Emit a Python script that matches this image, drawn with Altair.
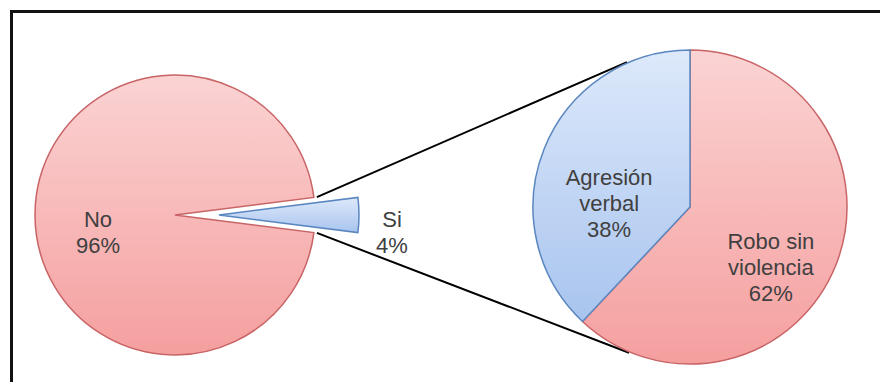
import math
import altair as alt
import pandas as pd

# ---- data ----
left_categories = ["Si", "No"]
left_values = [4, 96]
left_labels = ["Si", "No"]

right_categories = ["Robo sin violencia", "Agresión verbal"]
right_values = [62, 38]
right_labels = ["Robo sin\nviolencia", "Agresión\nverbal"]

# ---- layout (chart pixel space, origin at plot top-left) ----
W, H = 872, 374
L_CX, L_CY, L_R = 165, 205, 140
EXPLODE = 44
R_CX, R_CY, R_R = 680, 197, 157

TWO_PI = 2 * math.pi
left_total = sum(left_values)
si_share = left_values[0] / left_total
left_start = math.pi / 2 - math.pi * si_share  # Si slice centred at 3 o'clock

left_df = pd.DataFrame({
    "category": left_categories,
    "value": left_values,
    "name": left_labels,
})
left_df["label"] = left_df["name"] + "\n" + left_df["value"].astype(str) + "%"

right_df = pd.DataFrame({
    "category": right_categories,
    "value": right_values,
    "name": right_labels,
    "ord": list(range(len(right_categories))),
})
right_df["label"] = right_df["name"] + "\n" + right_df["value"].astype(str) + "%"

pink = alt.Gradient(gradient="linear", x1=0, x2=0, y1=0, y2=1,
                    stops=[alt.GradientStop(color="#FBD3D3", offset=0),
                           alt.GradientStop(color="#F59F9F", offset=1)])
blue = alt.Gradient(gradient="linear", x1=0, x2=0, y1=0, y2=1,
                    stops=[alt.GradientStop(color="#DDE9FB", offset=0),
                           alt.GradientStop(color="#A8C4EE", offset=1)])
PINK_STROKE = "#C86466"
BLUE_STROKE = "#5A86C0"
TEXT_COLOR = "#404040"
FONT = "Liberation Sans"
text_props = dict(font=FONT, fontSize=22, lineHeight=26, color=TEXT_COLOR,
                  lineBreak="\n", align="center", baseline="middle")

# ---- left pie: Si (exploded) and No as separate layers sharing the angle geometry ----
si_val, no_val = left_values[0], left_values[1]
si_range = [left_start, left_start + TWO_PI * si_val / left_total]
no_range = [si_range[1], si_range[1] + TWO_PI * no_val / left_total]

si_theta = alt.Theta("value:Q", stack=True, scale=alt.Scale(domain=[0, si_val], range=si_range))
no_theta = alt.Theta("value:Q", stack=True, scale=alt.Scale(domain=[0, no_val], range=no_range))

si_base = alt.Chart(left_df).transform_filter(alt.datum.category == "Si")
si_pie = si_base.mark_arc(outerRadius=L_R, strokeWidth=1.5, fill=blue, stroke=BLUE_STROKE).encode(
    theta=si_theta, x=alt.value(L_CX + EXPLODE), y=alt.value(L_CY))
si_text = si_base.mark_text(radius=173, **text_props).encode(
    theta=si_theta, x=alt.value(L_CX + EXPLODE), y=alt.value(L_CY + 5), text="label:N")
si_layer = alt.layer(si_pie, si_text)

no_base = alt.Chart(left_df).transform_filter(alt.datum.category == "No")
no_pie = no_base.mark_arc(outerRadius=L_R, strokeWidth=1.5, fill=pink, stroke=PINK_STROKE).encode(
    theta=no_theta, x=alt.value(L_CX), y=alt.value(L_CY))
no_text = no_base.mark_text(radius=77, **text_props).encode(
    theta=no_theta, x=alt.value(L_CX), y=alt.value(L_CY + 5), text="label:N")
no_layer = alt.layer(no_pie, no_text)

# ---- right pie ----
right_theta = alt.Theta("value:Q", stack=True,
                        scale=alt.Scale(domain=[0, sum(right_values)], range=[0, TWO_PI]))
right_base = alt.Chart(right_df)
right_pie = right_base.mark_arc(outerRadius=R_R, strokeWidth=1.5).encode(
    theta=right_theta,
    order=alt.Order("ord:Q"),
    x=alt.value(R_CX),
    y=alt.value(R_CY),
    fill=alt.condition(alt.datum.category == "Agresión verbal", alt.value(blue), alt.value(pink)),
    stroke=alt.condition(alt.datum.category == "Agresión verbal", alt.value(BLUE_STROKE), alt.value(PINK_STROKE)),
)
right_text = right_base.mark_text(radius=87, **text_props).encode(
    theta=right_theta,
    order=alt.Order("ord:Q"),
    x=alt.value(R_CX),
    y=alt.value(R_CY + 3),
    text="label:N",
)
right_layer = alt.layer(right_pie, right_text)

# ---- connector lines, derived from pie geometry ----
def pt(cx, cy, r, rad):
    return cx + r * math.sin(rad), cy - r * math.cos(rad)

p1 = pt(L_CX, L_CY, L_R + 3, si_range[0])
p3 = pt(L_CX, L_CY, L_R + 3, si_range[1])
p2 = pt(R_CX, R_CY, R_R + 1, math.radians(336.5))
p4 = pt(R_CX, R_CY, R_R + 1, math.radians(202.7))

conn_src = pd.DataFrame({"k": [0]})
upper = alt.Chart(conn_src).mark_rule(color="#000000", strokeWidth=2).encode(
    x=alt.value(p1[0]), y=alt.value(p1[1]), x2=alt.value(p2[0]), y2=alt.value(p2[1]))
lower = alt.Chart(conn_src).mark_rule(color="#000000", strokeWidth=2).encode(
    x=alt.value(p3[0]), y=alt.value(p3[1]), x2=alt.value(p4[0]), y2=alt.value(p4[1]))

top_border = alt.Chart(conn_src).mark_rule(color="#111111", strokeWidth=3).encode(
    x=alt.value(0), x2=alt.value(W), y=alt.value(1.5))
left_border = alt.Chart(conn_src).mark_rule(color="#111111", strokeWidth=3).encode(
    x=alt.value(1.5), y=alt.value(0), y2=alt.value(H))

chart = alt.layer(
    upper, lower, no_layer, si_layer, right_layer, top_border, left_border
).resolve_scale(
    theta="independent"
).properties(
    width=W, height=H, padding=0,
    autosize=alt.AutoSizeParams(type="fit", contains="padding"),
    background="#FFFFFF",
).configure_view(stroke=None)

chart.save("out.html", embed_options={"renderer": "svg", "actions": False})
